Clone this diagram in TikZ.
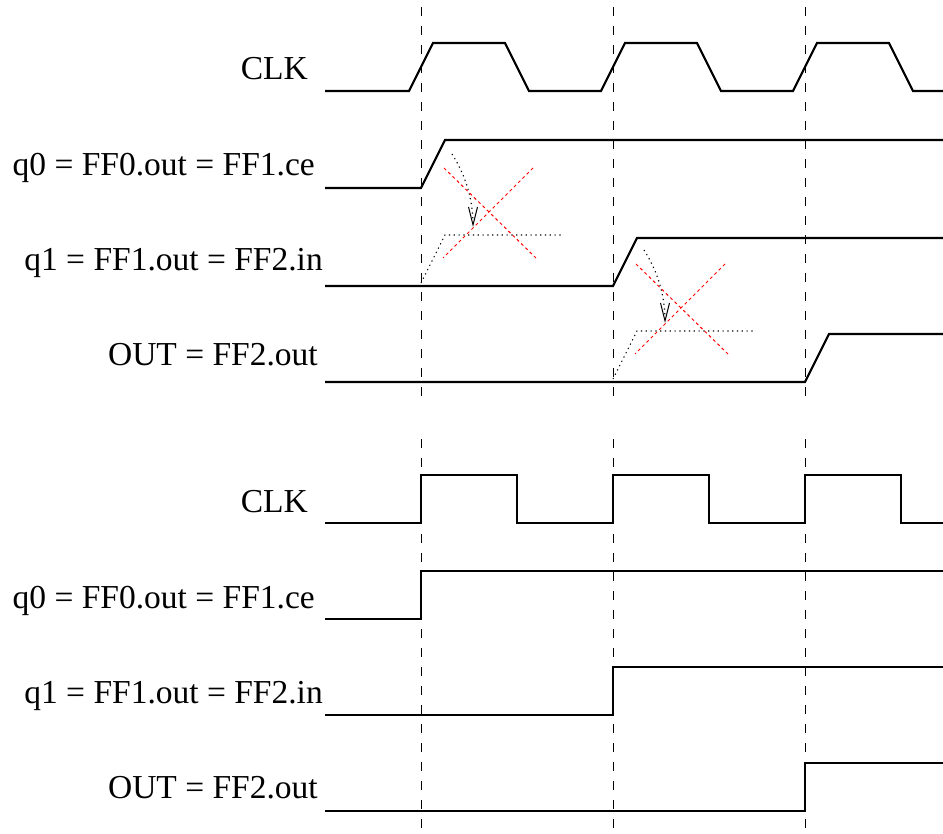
\documentclass[tikz,border=0pt]{standalone}
\usepackage{fontspec}
\setmainfont{Liberation Serif}
\usetikzlibrary{arrows.meta}
\begin{document}
\begin{tikzpicture}[x=1pt,y=-1pt,
  sig/.style={line width=2.2pt,line join=miter},
  gridline/.style={line width=1pt,dash pattern=on 9pt off 10pt},
  lbl/.style={anchor=base east,inner sep=0pt,font=\fontsize{33.5}{40}\selectfont},
  ghost/.style={line width=1.1pt,dash pattern=on 1.2pt off 3.6pt},
  crossline/.style={red,line width=1pt,dash pattern=on 3pt off 3pt},
  hint/.style={ghost,-{Straight Barb[length=18pt,width=9pt,line width=1pt]}}]
\useasboundingbox (0,0) rectangle (943,834);

% vertical dashed reference lines
\foreach \x in {421,613,805}{
  \draw[gridline] (\x,7) -- (\x,404);
  \draw[gridline] (\x,439) -- (\x,834);
}

% ---------- top: realistic waveforms ----------
\node[lbl] (clkA) at (308,80) {CLK};
\node[lbl] (qzA) at (315,176) {q0 = FF0.out = FF1.ce};
\node[lbl] (qoA) at (323,271) {q1 = FF1.out = FF2.in};
\node[lbl] (outA) at (318,366) {OUT = FF2.out};

\draw[sig] (325,91) -- (409,91) -- (433,43) -- (505,43) -- (529,91) -- (601,91) -- (625,43)
  -- (697,43) -- (721,91) -- (793,91) -- (817,43) -- (889,43) -- (913,91) -- (943,91);
\draw[sig] (325,188) -- (421,188) -- (445,140) -- (943,140);
\draw[sig] (325,286) -- (613,286) -- (637,238) -- (943,238);
\draw[sig] (325,382) -- (805,382) -- (829,334) -- (943,334);

% annotations (first edge)
\foreach \dx/\dy in {0/0,192/96}{
  \begin{scope}[shift={(\dx,\dy)}]
    \draw[ghost] (421,283) -- (445,235) -- (563,235);
    \draw[hint] (452,154) .. controls (466,176) and (473,200) .. (473,227);
    \draw[crossline] (444,168) -- (536,258);
    \draw[crossline] (533,168) -- (443,258);
  \end{scope}
}

% ---------- bottom: idealised waveforms ----------
\node[lbl] (clkB) at (308,512) {CLK};
\node[lbl] (qzB) at (315,608) {q0 = FF0.out = FF1.ce};
\node[lbl] (qoB) at (323,703) {q1 = FF1.out = FF2.in};
\node[lbl] (outB) at (318,798) {OUT = FF2.out};

\draw[sig] (325,523) -- (421,523) -- (421,475) -- (517,475) -- (517,523) -- (613,523) -- (613,475)
  -- (709,475) -- (709,523) -- (805,523) -- (805,475) -- (901,475) -- (901,523) -- (943,523);
\draw[sig] (325,619) -- (421,619) -- (421,571) -- (943,571);
\draw[sig] (325,715) -- (613,715) -- (613,667) -- (943,667);
\draw[sig] (325,811) -- (805,811) -- (805,763) -- (943,763);
\end{tikzpicture}
\end{document}
